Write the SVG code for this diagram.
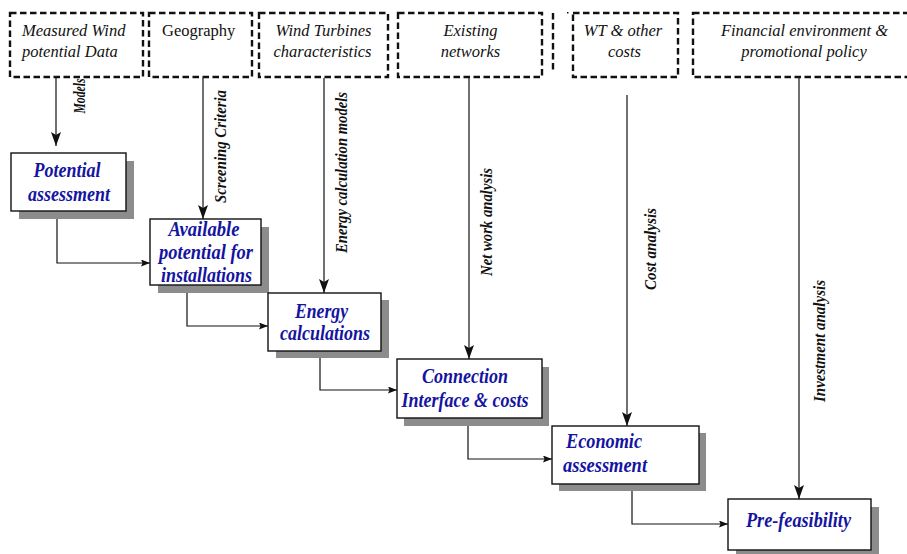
<svg xmlns="http://www.w3.org/2000/svg" width="907" height="554" viewBox="0 0 907 554">
<style>
.src{fill:none;stroke:#111;stroke-width:2.4;stroke-dasharray:6.5 3.5}
.st{font-family:"Liberation Serif","Times New Roman",serif;font-size:16.5px;font-style:italic;fill:#111}
.node{fill:#fff;stroke:#111;stroke-width:1.4}
.shadow{fill:#8c8c8c}
.nt{font-family:"Liberation Serif","Times New Roman",serif;font-size:20px;font-style:italic;font-weight:bold;fill:#1414a0;text-anchor:middle}
.lbl{font-family:"Liberation Serif","Times New Roman",serif;font-size:16px;font-style:italic;font-weight:bold;fill:#111;text-anchor:middle}
.ln{fill:none;stroke:#111;stroke-width:1.2}
</style>
<defs>
<marker id="big" markerUnits="userSpaceOnUse" markerWidth="16" markerHeight="10" refX="14" refY="5" orient="auto">
<path d="M0,0 L14,5 L0,10 L3,5 z" fill="#111"/>
</marker>
<marker id="small" markerUnits="userSpaceOnUse" markerWidth="11" markerHeight="8" refX="9" refY="3.5" orient="auto">
<path d="M0,0 L9,3.5 L0,7 L1.5,3.5 z" fill="#111"/>
</marker>
</defs>
<rect width="907" height="554" fill="#fff"/>

<g id="src-measured">
<rect class="src" x="10" y="13" width="133" height="64"/>
<text class="st" x="22" y="36">Measured Wind</text>
<text class="st" x="22" y="57">potential Data</text>
</g>
<g id="src-geography">
<rect class="src" x="149" y="13" width="103" height="64"/>
<text class="st" x="162" y="36" style="font-style:normal">Geography</text>
</g>
<g id="src-turbines">
<rect class="src" x="259" y="13" width="129" height="64"/>
<text class="st" x="323.5" y="36" text-anchor="middle">Wind Turbines</text>
<text class="st" x="322.5" y="57" text-anchor="middle">characteristics</text>
</g>
<g id="src-networks">
<rect class="src" x="398" y="13" width="144" height="64"/>
<text class="st" x="470.5" y="36" text-anchor="middle">Existing</text>
<text class="st" x="470.5" y="57" text-anchor="middle">networks</text>
</g>
<g id="src-fragment">
<line class="src" x1="553" y1="13" x2="553" y2="72"/>
<rect x="567" y="12" width="1.5" height="1.5" fill="#111"/>
</g>
<g id="src-costs">
<rect class="src" x="573" y="13" width="105" height="64"/>
<text class="st" x="623" y="36" text-anchor="middle">WT &amp; other</text>
<text class="st" x="624.5" y="57" text-anchor="middle">costs</text>
</g>
<g id="src-financial">
<rect class="src" x="693" y="13" width="222" height="64"/>
<text class="st" x="804.5" y="36" text-anchor="middle">Financial environment &amp;</text>
<text class="st" x="804" y="57" text-anchor="middle">promotional policy</text>
</g>

<g id="connectors">
<line class="ln" x1="56" y1="78" x2="56" y2="146" marker-end="url(#big)"/>
<line class="ln" x1="203" y1="78" x2="203" y2="219" marker-end="url(#big)"/>
<line class="ln" x1="324" y1="78" x2="324" y2="293" marker-end="url(#big)"/>
<line class="ln" x1="469" y1="78" x2="469" y2="359" marker-end="url(#big)"/>
<line class="ln" x1="627" y1="95" x2="627" y2="426" marker-end="url(#big)"/>
<line class="ln" x1="799" y1="78" x2="799" y2="499" marker-end="url(#big)"/>
<path class="ln" d="M57,211 V263 H150" marker-end="url(#small)"/>
<path class="ln" d="M187,285 V326 H268" marker-end="url(#small)"/>
<path class="ln" d="M320,351 V390 H397" marker-end="url(#small)"/>
<path class="ln" d="M468,418 V459 H552" marker-end="url(#small)"/>
<path class="ln" d="M632,484 V524 H728" marker-end="url(#small)"/>
<text class="lbl" transform="translate(85,96) rotate(-90)" style="font-size:17.5px" textLength="35" lengthAdjust="spacingAndGlyphs">Models</text>
<text class="lbl" transform="translate(226,146.5) rotate(-90)" textLength="113" lengthAdjust="spacingAndGlyphs">Screening Criteria</text>
<text class="lbl" transform="translate(347,172.5) rotate(-90)" textLength="161" lengthAdjust="spacingAndGlyphs">Energy calculation models</text>
<text class="lbl" transform="translate(492,222) rotate(-90)" textLength="108" lengthAdjust="spacingAndGlyphs">Net work analysis</text>
<text class="lbl" transform="translate(656,249) rotate(-90)" textLength="82" lengthAdjust="spacingAndGlyphs">Cost analysis</text>
<text class="lbl" transform="translate(825,341) rotate(-90)" textLength="122" lengthAdjust="spacingAndGlyphs">Investment analysis</text>
</g>

<g id="node-potential">
<rect class="shadow" x="19" y="161" width="115" height="58"/>
<rect class="node" x="11" y="153" width="115" height="58"/>
<text class="nt" x="67" y="177" textLength="67" lengthAdjust="spacingAndGlyphs">Potential</text>
<text class="nt" x="69" y="201" textLength="82" lengthAdjust="spacingAndGlyphs">assessment</text>
</g>
<g id="node-available">
<rect class="shadow" x="158" y="227" width="111" height="66"/>
<rect class="node" x="150" y="219" width="111" height="66"/>
<text class="nt" x="204" y="236" textLength="71" lengthAdjust="spacingAndGlyphs">Available</text>
<text class="nt" x="206" y="259" textLength="94" lengthAdjust="spacingAndGlyphs">potential for</text>
<text class="nt" x="206.5" y="282" textLength="91" lengthAdjust="spacingAndGlyphs">installations</text>
</g>
<g id="node-energy">
<rect class="shadow" x="276" y="300" width="113" height="58"/>
<rect class="node" x="268" y="293" width="113" height="58"/>
<text class="nt" x="321.5" y="318" textLength="53" lengthAdjust="spacingAndGlyphs">Energy</text>
<text class="nt" x="325" y="340" textLength="90" lengthAdjust="spacingAndGlyphs">calculations</text>
</g>
<g id="node-connection">
<rect class="shadow" x="404" y="367" width="145" height="59"/>
<rect class="node" x="397" y="359" width="145" height="59"/>
<text class="nt" x="465" y="383" textLength="86" lengthAdjust="spacingAndGlyphs">Connection</text>
<text class="nt" x="465" y="407" textLength="127" lengthAdjust="spacingAndGlyphs">Interface &amp; costs</text>
</g>
<g id="node-economic">
<rect class="shadow" x="559" y="433" width="147" height="58"/>
<rect class="node" x="552" y="426" width="147" height="58"/>
<text class="nt" x="604" y="448" textLength="76" lengthAdjust="spacingAndGlyphs">Economic</text>
<text class="nt" x="605" y="472" textLength="84" lengthAdjust="spacingAndGlyphs">assessment</text>
</g>
<g id="node-prefeasibility">
<rect class="shadow" x="736" y="507" width="143" height="51"/>
<rect class="node" x="728" y="499" width="143" height="51"/>
<text class="nt" x="798.5" y="527" textLength="105" lengthAdjust="spacingAndGlyphs">Pre-feasibility</text>
</g>
</svg>
